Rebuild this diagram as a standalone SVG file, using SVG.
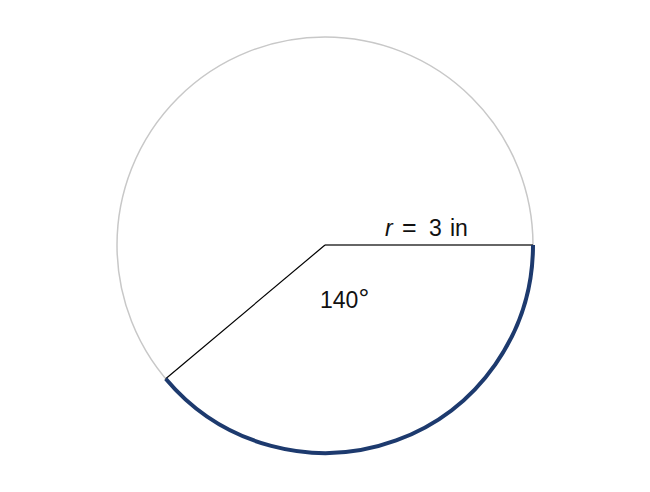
<svg xmlns="http://www.w3.org/2000/svg" width="650" height="492" viewBox="0 0 650 492">
<style>
.lbl{font-family:"Liberation Sans",Arial,sans-serif;font-size:23px;fill:#111}
</style>
<rect width="650" height="492" fill="#fff"/>
<g id="circle"><circle cx="325" cy="245" r="208" fill="none" stroke="#c8c8c8" stroke-width="1.5"/></g>
<g id="connectors">
<line x1="325" y1="245" x2="533" y2="245" stroke="#333" stroke-width="1.3"/>
<line x1="325" y1="245" x2="165.7" y2="378.7" stroke="#000" stroke-width="1.2"/>
<path d="M533,245 A208,208 0 0 1 165.7,378.7" fill="none" stroke="#1d3a6e" stroke-width="4"/>
</g>
<g id="labels">
<text class="lbl" y="236"><tspan x="385" font-style="italic">r</tspan><tspan x="402" font-size="25">=</tspan><tspan x="429">3</tspan><tspan x="450">in</tspan></text>
<text class="lbl" x="320" y="308">140<tspan font-size="27">°</tspan></text>
</g>
</svg>
